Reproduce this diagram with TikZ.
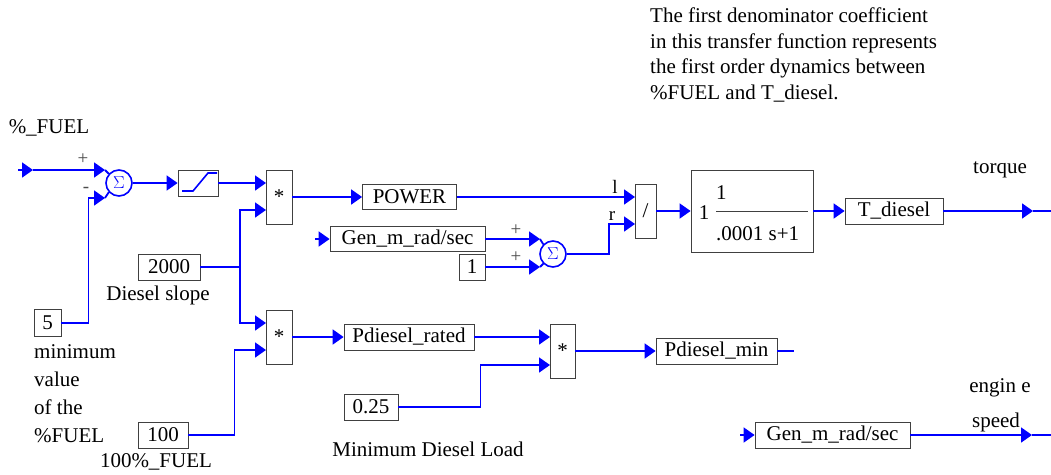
\documentclass[tikz,border=0pt]{standalone}
\usepackage{fontspec}
\setmainfont{Liberation Serif}
\usetikzlibrary{arrows.meta,positioning,calc}

\begin{document}
\begin{tikzpicture}[
  x=1pt, y=-1pt,
  blk/.style={draw=black!75, line width=0.8pt, inner sep=0pt, minimum height=26pt, font=\fontsize{21}{24}\selectfont},
  sumnode/.style={circle, draw=blue, line width=1.6pt, minimum size=26pt, inner sep=0pt, text=blue, font=\fontsize{19}{19}\selectfont},
  wire/.style={draw=blue, line width=1.8pt},
  sig/.style={wire, -{Triangle[length=11pt,width=15pt]}},
  txt/.style={font=\fontsize{21}{24}\selectfont, inner sep=0pt},
  sgn/.style={font=\fontsize{19}{19}\selectfont, inner sep=0pt, text=black!70}
]
  \useasboundingbox (0,0) rectangle (1051,474);
  % note on the transfer function
  \node[txt, align=left, anchor=north west, font=\fontsize{21}{25.5}\selectfont] (note) at (650,8)
    {The first denominator coefficient\\in this transfer function represents\\the first order dynamics between\\\%FUEL and T\_diesel.};
  % fuel input and limiter
  \node[txt] (fueltxt) at (49,128) {\%\_FUEL};
  \coordinate (fuelin) at (18,170);\coordinate (fuelmk) at (33,170);
  \coordinate (sA-1) at (105,170);\coordinate (sA-2) at (105,198);
  \node[sumnode] (sumA) at (119,183) {$\Sigma$};
  \node[sgn] (sAp) at (83,159) {+};
  \node[sgn] (sAm) at (86,190) {-};
  \draw[sig] (fuelin) -- (fuelmk);
  \draw[sig] (fuelmk) -- (sA-1);
  \draw[wire] (sA-1) -- (sumA.138);
  \draw[wire] (sA-2) -- (sumA.222);
  \node[blk, minimum width=27pt, minimum height=27pt] (k5) at (47.5,323) {5};
  \node[txt, align=left, anchor=north west, font=\fontsize{21}{28}\selectfont] (k5txt) at (34,344) {minimum\\value\\of the\\\%FUEL};
  \draw[sig] (k5.east) -- ++(27,0) |- (sA-2);
  \node[blk, minimum width=40pt] (lim) at (198,183) {};
  \draw[wire, line width=1.6pt] ($(lim.center)+(-16,8)$) -- ++(11,0) -- ++(15,-18) -- ++(9,0);
  \draw[sig] (sumA.east) -- (lim.west);
  % rated power
  \node[blk, minimum width=26pt, minimum height=54pt] (mulA) at (279,197) {*};
  \coordinate (mA-1) at (266,183);\coordinate (mA-2) at (266,210);
  \draw[sig] (lim.east) -- (mA-1);
  \node[blk, minimum width=62pt] (k2000) at (169,267) {2000};
  \node[txt] (k2000txt) at (158,295) {Diesel slope};
  \node[blk, minimum width=26pt, minimum height=54pt] (mulB) at (279,337) {*};
  \coordinate (mB-1) at (266,323);\coordinate (mB-2) at (266,350);
  \coordinate (split) at (240,267);
  \draw[wire] (k2000.east) -- (split);
  \draw[sig] (split) |- (mA-2);
  \draw[sig] (split) |- (mB-1);
  \node[blk, minimum width=50pt] (k100) at (163,435) {100};
  \node[txt] (k100txt) at (156,462) {100\%\_FUEL};
  \draw[sig] (k100.east) -- ++(46,0) |- (mB-2);
  % torque path
  \node[blk, minimum width=94pt, minimum height=25pt] (power) at (409.5,197) {POWER};
  \draw[sig] (mulA.east) -- (power.west);
  \node[blk, minimum width=21pt, minimum height=54pt] (dv) at (645.5,211) {/};
  \coordinate (dv-1) at (635,197);\coordinate (dv-2) at (635,224);
  \node[sgn, text=black] (dvl) at (615,187) {l};
  \node[sgn, text=black] (dvr) at (612,216) {r};
  \draw[sig] (power.east) -- (dv-1);
  \node[blk, minimum width=155pt, minimum height=25pt] (gen1) at (407.5,239) {Gen\_m\_rad/sec};
  \coordinate (gen1in) at (315,239);
  \draw[sig] (gen1in) -- (gen1.west);
  \node[blk, minimum width=26pt] (k1) at (472,267) {1};
  \node[sumnode] (sumB) at (553,254) {$\Sigma$};
  \coordinate (sB-1) at (540,239);\coordinate (sB-2) at (540,267);
  \node[sgn] (sBp1) at (516,230) {+};
  \node[sgn] (sBp2) at (516,257) {+};
  \draw[sig] (gen1.east) -- (sB-1);
  \draw[sig] (k1.east) -- (sB-2);
  \draw[wire] (sB-1) -- (sumB.135);
  \draw[wire] (sB-2) -- (sumB.225);
  \draw[sig] (sumB.east) -- ++(42,0) |- (dv-2);
  \node[blk, minimum width=122pt, minimum height=82pt] (tf) at (752,211) {};
  \node[txt] (tfk) at (704,213) {1};
  \node[txt, anchor=west] (tfnum) at (716,193) {1};
  \node[txt, anchor=west] (tfden) at (716,234) {.0001 s+1};
  \draw[black!75, line width=0.8pt] (716,211) -- (808,211);
  \draw[sig] (dv.east) -- (tf.west);
  \node[blk, minimum width=98pt] (tdiesel) at (894,211) {T\_diesel};
  \draw[sig] (tf.east) -- (tdiesel.west);
  \coordinate (torqmk) at (1033,211);\coordinate (torqout) at (1051,211);
  \draw[sig] (tdiesel.east) -- (torqmk);
  \draw[wire] (torqmk) -- (torqout);
  \node[txt] (torqtxt) at (1000,170) {torque};
  % minimum power
  \node[blk, minimum width=130pt] (pdr) at (409,337) {Pdiesel\_rated};
  \draw[sig] (mulB.east) -- (pdr.west);
  \node[blk, minimum width=25pt, minimum height=54pt] (mulC) at (562.5,351) {*};
  \coordinate (mC-1) at (550,337);\coordinate (mC-2) at (550,365);
  \draw[sig] (pdr.east) -- (mC-1);
  \node[blk, minimum width=54pt] (k025) at (371,407) {0.25};
  \node[txt] (k025txt) at (428,449) {Minimum Diesel Load};
  \draw[sig] (k025.east) -- ++(82,0) |- (mC-2);
  \node[blk, minimum width=121pt] (pdm) at (716.5,351) {Pdiesel\_min};
  \draw[sig] (mulC.east) -- (pdm.west);
  \coordinate (pdmout) at (794,351);
  \draw[wire] (pdm.east) -- (pdmout);
  % engine speed
  \node[blk, minimum width=155pt] (gen2) at (832.5,435) {Gen\_m\_rad/sec};
  \coordinate (gen2in) at (740,435);
  \draw[sig] (gen2in) -- (gen2.west);
  \coordinate (spdmk) at (1032,435);\coordinate (spdout) at (1051,435);
  \draw[sig] (gen2.east) -- (spdmk);
  \draw[wire] (spdmk) -- (spdout);
  \node[txt] (engtxt) at (1000,388) {engin e};
  \node[txt] (spdtxt) at (996,422) {speed};
\end{tikzpicture}
\end{document}
